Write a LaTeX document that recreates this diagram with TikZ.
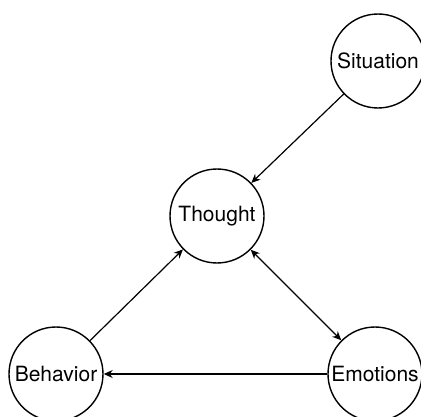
\documentclass[tikz,border=0pt]{standalone}
\usepackage{fontspec}
\setmainfont{TeX Gyre Heros}
\usetikzlibrary{arrows.meta,
                positioning}
\tikzset{state/.style =
   {circle,
    draw,
    line width=1.4pt,
    text centered,
    inner sep=0pt,
    minimum size=94pt,
    font=\fontsize{21}{21}\selectfont}}
\tikzset{arrow/.style = {draw, line width=1.2pt, -{Stealth[length=9pt, width=8pt]}}}
\tikzset{twoway/.style = {draw, line width=1.2pt, {Stealth[length=9pt, width=8pt]}-{Stealth[length=9pt, width=8pt]}}}

\begin{document}
\begin{tikzpicture}[x=1pt, y=1pt]

    \useasboundingbox (0,0) rectangle (421,416);

    \node [state] (situation) at (378,355) {Situation};

    \node [state] (thought) at (217,200) {Thought};

    \node [state] (behavior) at (56,42) {Behavior};

    \node [state] (emotions) at (375,42) {Emotions};

    \draw [arrow] (situation) -- (thought);
    \draw [twoway] (thought) -- (emotions);
    \draw [arrow] (emotions) -- (behavior);
    \draw [arrow] (behavior) -- (thought);

\end{tikzpicture}
\end{document}
